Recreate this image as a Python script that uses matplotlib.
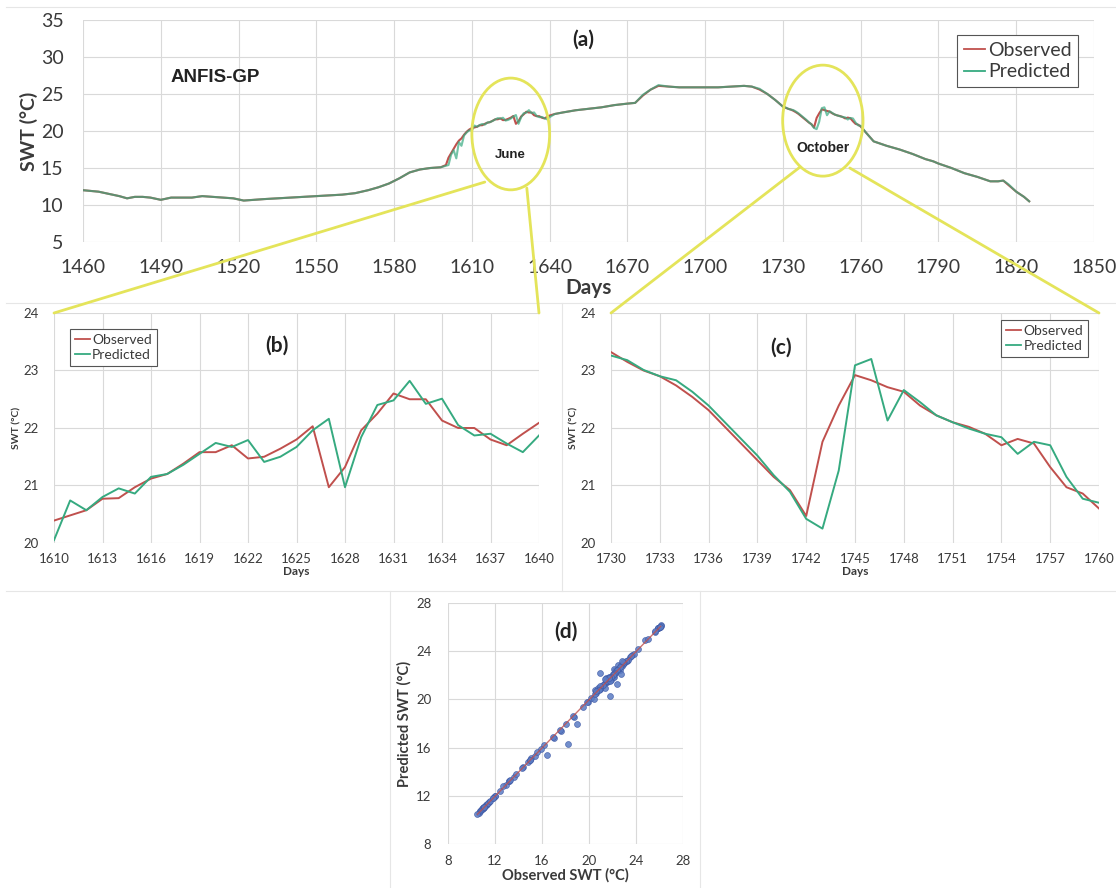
import matplotlib.pyplot as plt
import numpy as np
from matplotlib.patches import Ellipse, ConnectionPatch
from matplotlib.lines import Line2D

OBS_COLOR = "#c0504d"
PRED_COLOR = "#36aa80"
HILITE = "#e4e45a"
GRID = "#d9d9d9"
TXT = "#3a3a3a"

# ---- daily values, June window (panel b) ----
days_b = np.arange(1610, 1641)
obs_b = [20.39, 20.48, 20.57, 20.77, 20.78, 20.97, 21.12, 21.20, 21.38, 21.58,
         21.58, 21.70, 21.47, 21.50, 21.64, 21.80, 22.03, 20.97, 21.32, 21.96,
         22.25, 22.60, 22.50, 22.50, 22.13, 22.00, 22.00, 21.80, 21.70, 21.90,
         22.09]
pred_b = [20.05, 20.74, 20.57, 20.80, 20.95, 20.86, 21.15, 21.20, 21.36, 21.55,
          21.74, 21.67, 21.79, 21.41, 21.50, 21.67, 21.96, 22.16, 20.97, 21.84,
          22.40, 22.48, 22.82, 22.42, 22.51, 22.05, 21.87, 21.90, 21.73, 21.58,
          21.87]

# ---- daily values, October window (panel c) ----
days_c = np.arange(1730, 1761)
obs_c = [23.32, 23.15, 23.00, 22.90, 22.74, 22.54, 22.31, 22.02, 21.73, 21.44,
         21.15, 20.92, 20.47, 21.76, 22.39, 22.92, 22.83, 22.71, 22.63, 22.39,
         22.22, 22.10, 22.02, 21.90, 21.70, 21.81, 21.73, 21.32, 20.97, 20.86,
         20.60]
pred_c = [23.26, 23.18, 23.01, 22.90, 22.83, 22.63, 22.39, 22.10, 21.81, 21.52,
          21.18, 20.89, 20.42, 20.25, 21.26, 23.09, 23.20, 22.13, 22.66, 22.45,
          22.22, 22.10, 21.99, 21.90, 21.84, 21.55, 21.76, 21.70, 21.15, 20.77,
          20.70]

# ---- rest of the record (panel a) ----
days_1 = [1460, 1463, 1466, 1470, 1474, 1477, 1480, 1483, 1486, 1490, 1494,
          1498, 1502, 1506, 1510, 1514, 1518, 1522, 1526, 1530, 1535, 1540,
          1545, 1550, 1555, 1560, 1565, 1570, 1574, 1578, 1582, 1586, 1590,
          1594, 1598, 1600, 1601, 1602, 1603, 1604, 1605, 1606, 1607, 1608,
          1609]
obs_1 = [12.0, 11.9, 11.8, 11.5, 11.2, 10.9, 11.1, 11.1, 11.0, 10.7, 11.0,
         11.0, 11.0, 11.2, 11.1, 11.0, 10.9, 10.6, 10.7, 10.8, 10.9, 11.0,
         11.1, 11.2, 11.3, 11.4, 11.6, 12.0, 12.4, 12.9, 13.6, 14.4, 14.8,
         15.0, 15.1, 15.4, 16.4, 17.0, 17.6, 18.2, 18.7, 19.0, 19.5, 19.9,
         20.2]
pred_1 = [12.0, 11.9, 11.8, 11.5, 11.2, 10.9, 11.1, 11.1, 11.0, 10.7, 11.0,
          11.0, 11.0, 11.2, 11.1, 11.0, 10.9, 10.6, 10.7, 10.8, 10.9, 11.0,
          11.1, 11.2, 11.3, 11.4, 11.6, 12.0, 12.4, 12.9, 13.6, 14.4, 14.8,
          15.0, 15.1, 15.3, 15.4, 16.8, 17.4, 16.3, 18.5, 18.0, 19.4, 19.8,
          20.1]

days_2 = [1642, 1645, 1650, 1655, 1660, 1665, 1670, 1673, 1676, 1679, 1682,
          1686, 1690, 1695, 1700, 1705, 1710, 1715, 1718, 1721, 1724, 1727,
          1729]
obs_2 = [22.3, 22.5, 22.8, 23.0, 23.2, 23.5, 23.7, 23.8, 24.8, 25.6, 26.1,
         26.0, 25.9, 25.9, 25.9, 25.9, 26.0, 26.1, 26.0, 25.6, 25.0, 24.2,
         23.6]
pred_2 = [22.3, 22.5, 22.8, 23.0, 23.2, 23.5, 23.7, 23.8, 24.9, 25.6, 26.2,
          26.0, 25.9, 25.9, 25.9, 25.9, 26.0, 26.1, 26.0, 25.7, 25.0, 24.2,
          23.6]

days_3 = [1762, 1765, 1770, 1775, 1780, 1785, 1788, 1790, 1795, 1800, 1805,
          1810, 1813, 1815, 1817, 1820, 1823, 1825]
obs_3 = [19.8, 18.6, 18.0, 17.5, 16.9, 16.2, 15.9, 15.6, 15.0, 14.3, 13.8,
         13.2, 13.2, 13.3, 12.7, 11.8, 11.1, 10.5]
pred_3 = [19.8, 18.6, 18.0, 17.5, 16.9, 16.2, 15.9, 15.6, 15.0, 14.3, 13.8,
          13.2, 13.2, 13.3, 12.8, 11.8, 11.1, 10.5]

days_a = np.concatenate([days_1, days_b, days_2, days_c, days_3])
obs_a = np.concatenate([obs_1, obs_b, obs_2, obs_c, obs_3])
pred_a = np.concatenate([pred_1, pred_b, pred_2, pred_c, pred_3])

plt.rcParams["font.family"] = ["Lato", "DejaVu Sans"]

W, H = 1116, 888
fig = plt.figure(figsize=(W / 100, H / 100), dpi=100)


def px_axes(left, top, right, bottom):
    return fig.add_axes([left / W, 1 - bottom / H, (right - left) / W, (bottom - top) / H])


def excel_style(ax, fs, xpad, ypad):
    for s in ax.spines.values():
        s.set_visible(False)
    ax.grid(True, color=GRID, lw=0.8)
    ax.set_axisbelow(True)
    ax.tick_params(length=0, labelsize=fs, labelcolor=TXT)
    ax.tick_params(axis="x", pad=xpad)
    ax.tick_params(axis="y", pad=ypad)


def legend(ax, anchor, loc, fs):
    handles = [Line2D([], [], color=OBS_COLOR, lw=1.3),
               Line2D([], [], color=PRED_COLOR, lw=1.3)]
    lg = ax.legend(handles, ["Observed", "Predicted"], loc=loc,
                   bbox_to_anchor=(anchor[0] / W, 1 - anchor[1] / H),
                   bbox_transform=fig.transFigure, fontsize=fs, fancybox=False,
                   framealpha=1, edgecolor="#555555", handlelength=1.1,
                   handletextpad=0.15, borderpad=0.35, labelspacing=0.25)
    lg.get_frame().set_linewidth(0.8)
    for t in lg.get_texts():
        t.set_color(TXT)


# faint chart-area borders
for x0, y0, x1, y1 in [(6, 7, 1116, 7), (6, 303, 1116, 303), (6, 591, 1116, 591),
                       (562, 303, 562, 591), (390, 591, 390, 888), (700, 591, 700, 888)]:
    fig.add_artist(Line2D([x0 / W, x1 / W], [1 - y0 / H, 1 - y1 / H],
                          color="#e6e6e6", lw=0.8, transform=fig.transFigure))

# ---------------- (a) full record ----------------
ax_a = px_axes(83, 20, 1094, 242)
excel_style(ax_a, 14, 12, 14)
ax_a.plot(days_a, obs_a, color=OBS_COLOR, lw=1.5)
ax_a.plot(days_a, pred_a, color=PRED_COLOR, lw=1.5, alpha=0.7)
ax_a.set_xlim(1460, 1850)
ax_a.set_ylim(5, 35)
ax_a.set_xticks(range(1460, 1851, 30))
ax_a.set_yticks(range(5, 36, 5))
ax_a.set_xlabel("Days", fontsize=15, fontweight="bold", color=TXT, labelpad=2)
ax_a.set_ylabel("SWT (°C)", fontsize=14, fontweight="bold", color=TXT, labelpad=2)
ax_a.text(0.495, 0.91, "(a)", transform=ax_a.transAxes, ha="center", va="center",
          fontsize=15, fontweight="bold", color="#222222")
ax_a.text(1511, 27.2, "ANFIS-GP", ha="center", va="center", fontsize=13.5,
          fontweight="bold", family="Liberation Sans", color="#222222")
legend(ax_a, (1088, 25), "upper right", 14)

# highlighted windows
ax_a.add_patch(Ellipse((1625, 19.6), 30, 15.1, fill=False, ec=HILITE, lw=2,
                       clip_on=False, zorder=5))
ax_a.add_patch(Ellipse((1745.4, 21.4), 31, 15.0, fill=False, ec=HILITE, lw=2,
                       clip_on=False, zorder=5))
ax_a.text(1625, 16.8, "June", ha="center", va="center", fontsize=9.5,
          fontweight="bold", family="Liberation Sans", color="#222222")
ax_a.text(1745.4, 17.7, "October", ha="center", va="center", fontsize=10,
          fontweight="bold", family="Liberation Sans", color="#222222")

# ---------------- (b) June ----------------
ax_b = px_axes(54, 313, 539, 543)
excel_style(ax_b, 9.5, 7, 11)
ax_b.plot(days_b, obs_b, color=OBS_COLOR, lw=1.4)
ax_b.plot(days_b, pred_b, color=PRED_COLOR, lw=1.4)
ax_b.set_xlim(1610, 1640)
ax_b.set_ylim(20, 24)
ax_b.set_xticks(range(1610, 1641, 3))
ax_b.set_yticks(range(20, 25))
ax_b.set_xlabel("Days", fontsize=8.5, fontweight="bold", color=TXT, labelpad=1)
ax_b.set_ylabel("SWT (°C)", fontsize=7.5, fontweight="bold", color=TXT, labelpad=1)
ax_b.text(0.46, 0.86, "(b)", transform=ax_b.transAxes, ha="center", va="center",
          fontsize=15, fontweight="bold", color="#222222")
legend(ax_b, (63, 322), "upper left", 10)

# ---------------- (c) October ----------------
ax_c = px_axes(611, 313, 1099, 543)
excel_style(ax_c, 9.5, 7, 11)
ax_c.plot(days_c, obs_c, color=OBS_COLOR, lw=1.4)
ax_c.plot(days_c, pred_c, color=PRED_COLOR, lw=1.4)
ax_c.set_xlim(1730, 1760)
ax_c.set_ylim(20, 24)
ax_c.set_xticks(range(1730, 1761, 3))
ax_c.set_yticks(range(20, 25))
ax_c.set_xlabel("Days", fontsize=8.5, fontweight="bold", color=TXT, labelpad=1)
ax_c.set_ylabel("SWT (°C)", fontsize=7.5, fontweight="bold", color=TXT, labelpad=1)
ax_c.text(0.348, 0.85, "(c)", transform=ax_c.transAxes, ha="center", va="center",
          fontsize=15, fontweight="bold", color="#222222")
legend(ax_c, (1095, 313), "upper right", 10)

# zoom connectors
for xy_a, ax_t, corner in [((1615, 13.1), ax_b, (0, 1)), ((1631.2, 12.3), ax_b, (1, 1)),
                           ((1736.5, 15.1), ax_c, (0, 1)), ((1755.8, 15.0), ax_c, (1, 1))]:
    fig.add_artist(ConnectionPatch(xyA=xy_a, coordsA=ax_a.transData, xyB=corner,
                                   coordsB=ax_t.transAxes, color=HILITE, lw=2,
                                   zorder=6))

# ---------------- (d) scatter ----------------
ax_d = px_axes(448, 603, 683, 844)
excel_style(ax_d, 9.5, 8, 12)
ax_d.scatter(obs_a, pred_a, s=18, color="#5b7cc4", edgecolors="#3f5aa6",
             linewidths=0.5, alpha=0.85, zorder=3)
k, b0 = np.polyfit(obs_a, pred_a, 1)
xs = np.array([obs_a.min(), obs_a.max()])
ax_d.plot(xs, k * xs + b0, color=OBS_COLOR, lw=1.0, alpha=0.8, zorder=4)
ax_d.set_xlim(8, 28)
ax_d.set_ylim(8, 28)
ax_d.set_xticks(range(8, 29, 4))
ax_d.set_yticks(range(8, 29, 4))
ax_d.set_xlabel("Observed SWT (°C)", fontsize=10.5, fontweight="bold", color=TXT,
                labelpad=1)
ax_d.set_ylabel("Predicted SWT (°C)", fontsize=10.5, fontweight="bold", color=TXT,
                labelpad=3)
ax_d.text(0.5, 0.88, "(d)", transform=ax_d.transAxes, ha="center", va="center",
          fontsize=15, fontweight="bold", color="#222222")

fig.savefig("out.png", dpi=100)
